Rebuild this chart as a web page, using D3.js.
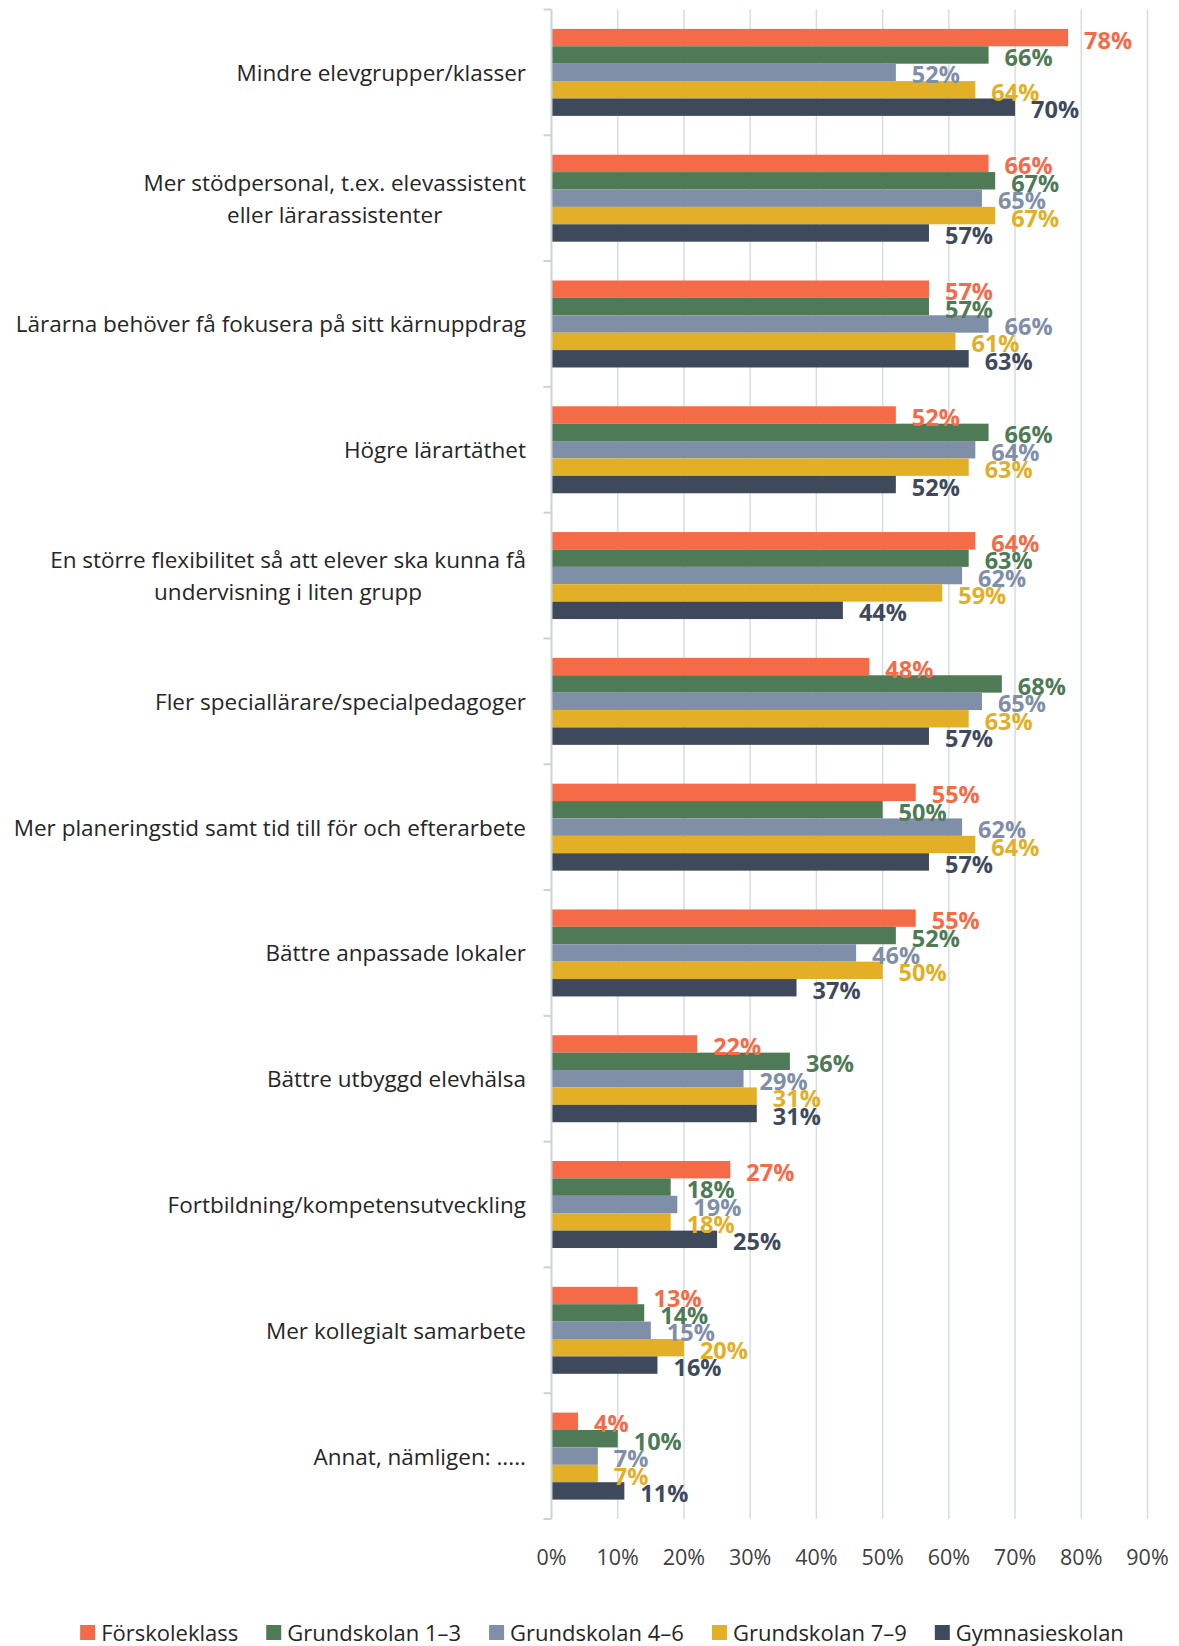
<!DOCTYPE html>
<html>
<head>
<meta charset="utf-8">
<script src="https://cdn.jsdelivr.net/npm/d3@7"></script>
<style>
  body { margin: 0; background: #fff; }
</style>
</head>
<body>
<div id="chart"></div>
<script>
const categories = [
  ["Mindre elevgrupper/klasser"],
  ["Mer stödpersonal, t.ex. elevassistent", "eller lärarassistenter"],
  ["Lärarna behöver få fokusera på sitt kärnuppdrag"],
  ["Högre lärartäthet"],
  ["En större flexibilitet så att elever ska kunna få", "undervisning i liten grupp"],
  ["Fler speciallärare/specialpedagoger"],
  ["Mer planeringstid samt tid till för och efterarbete"],
  ["Bättre anpassade lokaler"],
  ["Bättre utbyggd elevhälsa"],
  ["Fortbildning/kompetensutveckling"],
  ["Mer kollegialt samarbete"],
  ["Annat, nämligen: ....."]
];
const seriesNames = ["Förskoleklass", "Grundskolan 1–3", "Grundskolan 4–6", "Grundskolan 7–9", "Gymnasieskolan"];
const seriesColors = ["#F56B48", "#4E7A56", "#7F8FA8", "#E2AF26", "#3E4A5C"];

const forskoleklass = [78, 66, 57, 52, 64, 48, 55, 55, 22, 27, 13, 4];
const grund13 = [66, 67, 57, 66, 63, 68, 50, 52, 36, 18, 14, 10];
const grund46 = [52, 65, 66, 64, 62, 65, 62, 46, 29, 19, 15, 7];
const grund79 = [64, 67, 61, 63, 59, 63, 64, 50, 31, 18, 20, 7];
const gymnasie = [70, 57, 63, 52, 44, 57, 57, 37, 31, 25, 16, 11];
const seriesValues = [forskoleklass, grund13, grund46, grund79, gymnasie];

const tickValues = [0, 10, 20, 30, 40, 50, 60, 70, 80, 90];

const width = 1179, height = 1646;
const margin = {top: 9.5, left: 551.5, right: 31.5, bottom: 127};
const font = "'Open Sans', 'Noto Sans', sans-serif";

const svg = d3.select('#chart').append('svg')
  .attr('width', width)
  .attr('height', height)
  .style('font-family', font);

const x = d3.scaleLinear().domain([0, 90]).range([margin.left, width - margin.right]);
const y = d3.scaleBand().domain(d3.range(categories.length)).range([margin.top, height - margin.bottom]);
const y1 = d3.scaleBand().domain(d3.range(seriesNames.length)).range([0, y.bandwidth()]).paddingOuter(1.115);

// gridlines
svg.append('g')
  .selectAll('line')
  .data(tickValues.slice(1))
  .join('line')
  .attr('x1', d => x(d)).attr('x2', d => x(d))
  .attr('y1', margin.top).attr('y2', height - margin.bottom)
  .attr('stroke', '#D6DDE0')
  .attr('stroke-width', 1.5);

// x tick labels
svg.append('g')
  .selectAll('text')
  .data(tickValues)
  .join('text')
  .attr('x', d => x(d))
  .attr('y', 1556)
  .attr('text-anchor', 'middle')
  .attr('dominant-baseline', 'central')
  .attr('font-size', '21.5px')
  .attr('fill', '#404040')
  .text(d => d + '%');

// bars
const rows = [];
categories.forEach((c, i) => {
  seriesValues.forEach((vals, s) => rows.push({cat: i, s: s, v: vals[i]}));
});

svg.append('g')
  .selectAll('rect')
  .data(rows)
  .join('rect')
  .attr('x', x(0))
  .attr('y', d => y(d.cat) + y1(d.s))
  .attr('width', d => x(d.v) - x(0))
  .attr('height', y1.bandwidth())
  .attr('fill', d => seriesColors[d.s]);

// data labels
svg.append('g')
  .selectAll('text')
  .data(rows)
  .join('text')
  .attr('x', d => x(d.v) + 16)
  .attr('y', d => y(d.cat) + y1(d.s) + y1.bandwidth() / 2 + 2)
  .attr('dominant-baseline', 'central')
  .attr('font-size', '23.5px')
  .attr('font-weight', 'bold')
  .attr('fill', d => seriesColors[d.s])
  .text(d => d.v + '%');

// left axis with ticks at band boundaries
const axisG = svg.append('g');
axisG.append('line')
  .attr('x1', x(0)).attr('x2', x(0))
  .attr('y1', margin.top).attr('y2', height - margin.bottom)
  .attr('stroke', '#CBD3D6')
  .attr('stroke-width', 2);
axisG.selectAll('.tk')
  .data(d3.range(categories.length + 1))
  .join('line')
  .attr('class', 'tk')
  .attr('x1', x(0) - 8).attr('x2', x(0))
  .attr('y1', d => margin.top + d * y.step())
  .attr('y2', d => margin.top + d * y.step())
  .attr('stroke', '#CBD3D6')
  .attr('stroke-width', 2);

// category labels
const catG = svg.append('g');
categories.forEach((lines, i) => {
  const g = catG.append('g');
  const lh = 32;
  const cy = y(i) + y.bandwidth() / 2;
  const texts = lines.map((t, j) => g.append('text')
    .attr('y', cy + (j - (lines.length - 1) / 2) * lh)
    .attr('dominant-baseline', 'central')
    .attr('font-size', '22.5px')
    .attr('fill', '#262626')
    .text(t));
  const maxW = d3.max(texts, t => t.node().getComputedTextLength());
  texts.forEach(t => t.attr('text-anchor', 'middle').attr('x', 526 - maxW / 2));
});

// legend
const legend = svg.append('g');
let lx = 0;
seriesNames.forEach((name, i) => {
  const g = legend.append('g');
  g.append('rect')
    .attr('x', lx).attr('y', 1625)
    .attr('width', 15).attr('height', 15)
    .attr('fill', seriesColors[i]);
  const t = g.append('text')
    .attr('x', lx + 21).attr('y', 1632)
    .attr('dominant-baseline', 'central')
    .attr('font-size', '22px')
    .attr('fill', '#262626')
    .text(name);
  lx += 21 + t.node().getComputedTextLength() + 28;
});
const legendW = lx - 28;
legend.attr('transform', `translate(${602 - legendW / 2},0)`);
</script>
</body>
</html>
